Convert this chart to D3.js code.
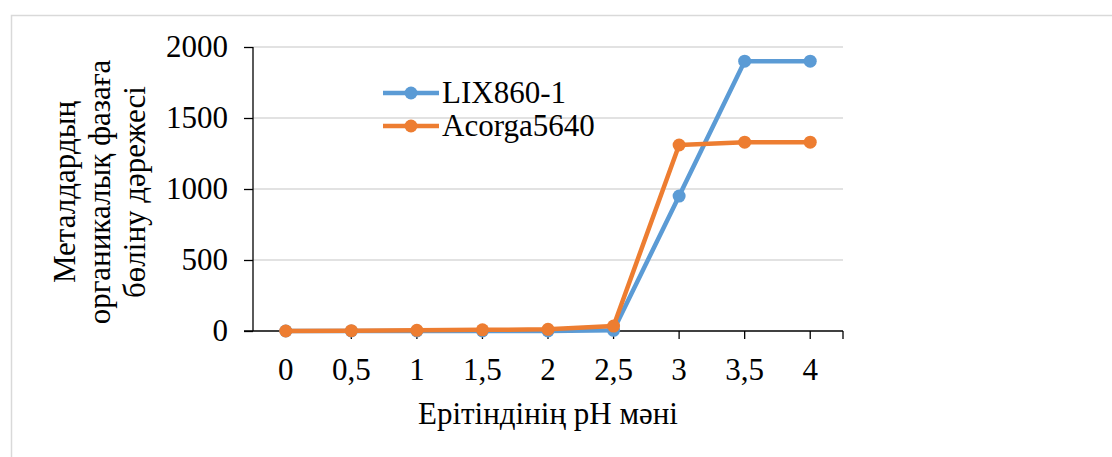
<!DOCTYPE html>
<html>
<head>
<meta charset="utf-8">
<script src="https://cdn.jsdelivr.net/npm/d3@7"></script>
<style>
  body { margin: 0; background: #fff; }
  svg text { font-family: "Liberation Serif", "Times New Roman", serif; fill: #000; }
</style>
</head>
<body>
<svg id="chart" width="1112" height="457"></svg>
<script>
// pH values along the x axis
var phLabels = ["0", "0,5", "1", "1,5", "2", "2,5", "3", "3,5", "4"];
var lix860 = [0, 0, 0, 0, 0, 5, 950, 1900, 1900];
var acorga5640 = [0, 2, 5, 8, 12, 35, 1310, 1330, 1330];
var seriesNames = ["LIX860-1", "Acorga5640"];
var seriesColors = ["#5b9bd5", "#ed7d31"];
var yTicks = [0, 500, 1000, 1500, 2000];
var yTitle = ["Металдардың", "органикалық фазаға", "бөліну дəрежесі"];
var xTitle = "Ерітіндінің pH мəні";

var FONT = "Liberation Serif";
var FS = 31;

var svg = d3.select("#chart");

// outer chart frame (only top and left edges show)
svg.append("rect")
  .attr("x", 11.5).attr("y", 15.5)
  .attr("width", 1200).attr("height", 500)
  .attr("fill", "none").attr("stroke", "#d9d9d9").attr("stroke-width", 1.5);

var plotL = 253, plotR = 843, plotT = 47, plotB = 331;

var x = d3.scaleBand().domain(phLabels).range([plotL, plotR]);
var y = d3.scaleLinear().domain([0, 2000]).range([plotB, plotT]);
var cx = d => x(d) + x.bandwidth() / 2;

// gridlines
svg.append("g").selectAll("line").data(yTicks.slice(1)).enter()
  .append("line")
  .attr("x1", plotL).attr("x2", plotR)
  .attr("y1", d => y(d)).attr("y2", d => y(d))
  .attr("stroke", "#d9d9d9").attr("stroke-width", 1.5);

// y axis
var yAxis = svg.append("g")
  .attr("transform", "translate(" + plotL + ",0)")
  .call(d3.axisLeft(y).tickValues(yTicks).tickSize(9).tickPadding(16).tickFormat(d3.format("d")));
yAxis.selectAll("line, path").attr("stroke", "#000").attr("stroke-width", 1.3);
yAxis.select(".domain").attr("d", "M0," + plotT + "V" + plotB);
yAxis.selectAll("text").attr("font-size", FS).attr("font-family", FONT);

// x axis: ticks at category centres plus the far end
var xAxis = svg.append("g")
  .attr("transform", "translate(0," + plotB + ")")
  .call(d3.axisBottom(x).tickSize(0).tickPadding(27));
xAxis.select(".domain").remove();
xAxis.selectAll("text").attr("font-size", FS).attr("font-family", FONT);
xAxis.selectAll(".tick line").remove();
xAxis.append("line").attr("x1", plotL - 9).attr("x2", plotR).attr("y1", 0).attr("y2", 0)
  .attr("stroke", "#000").attr("stroke-width", 1.3);
xAxis.selectAll(".xt").data(phLabels.slice(1)).enter()
  .append("line")
  .attr("x1", d => cx(d)).attr("x2", d => cx(d))
  .attr("y1", 0).attr("y2", 8)
  .attr("stroke", "#000").attr("stroke-width", 1.3);
xAxis.append("line").attr("x1", plotR).attr("x2", plotR).attr("y1", 0).attr("y2", 8)
  .attr("stroke", "#000").attr("stroke-width", 1.3);

// titles
svg.append("text")
  .attr("x", (plotL + plotR) / 2).attr("y", 424)
  .attr("text-anchor", "middle").attr("font-size", FS).attr("font-family", FONT)
  .text(xTitle);

var yt = svg.append("text")
  .attr("transform", "translate(0,192) rotate(-90)")
  .attr("text-anchor", "middle").attr("font-size", FS).attr("font-family", FONT);
yt.selectAll("tspan").data(yTitle).enter()
  .append("tspan")
  .attr("x", 0)
  .attr("y", (d, i) => 75 + i * 35)
  .text(d => d);

// series
var line = d3.line().x((d, i) => cx(phLabels[i])).y(d => y(d));
[lix860, acorga5640].forEach(function (vals, k) {
  var g = svg.append("g");
  g.append("path").datum(vals)
    .attr("d", line)
    .attr("fill", "none")
    .attr("stroke", seriesColors[k])
    .attr("stroke-width", 4.5)
    .attr("stroke-linejoin", "round");
  g.selectAll("circle").data(vals).enter()
    .append("circle")
    .attr("cx", (d, i) => cx(phLabels[i]))
    .attr("cy", d => y(d))
    .attr("r", 6.5)
    .attr("fill", seriesColors[k]);
});

// legend
var legend = svg.append("g");
seriesNames.forEach(function (name, k) {
  var ly = 93 + k * 33;
  legend.append("line")
    .attr("x1", 383).attr("x2", 439).attr("y1", ly).attr("y2", ly)
    .attr("stroke", seriesColors[k]).attr("stroke-width", 4.5);
  legend.append("circle")
    .attr("cx", 411).attr("cy", ly).attr("r", 6.5)
    .attr("fill", seriesColors[k]);
  legend.append("text")
    .attr("x", 442).attr("y", ly + 10)
    .attr("font-size", FS).attr("font-family", FONT)
    .text(name);
});
</script>
</body>
</html>
